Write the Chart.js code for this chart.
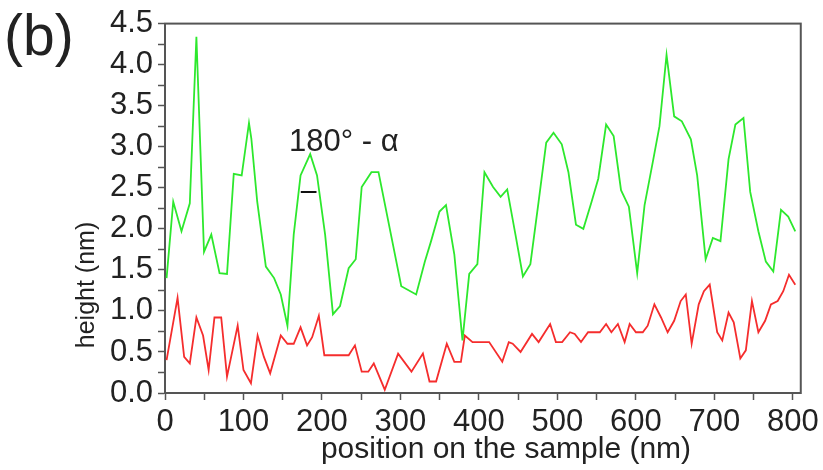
<!DOCTYPE html>
<html>
<head>
<meta charset="utf-8">
<script src="https://cdn.jsdelivr.net/npm/chart.js@4.4.1/dist/chart.umd.min.js"></script>
<style>
html, body { margin: 0; padding: 0; background: #fff; }
</style>
</head>
<body>
<canvas id="chart" width="823" height="470"></canvas>
<script>
// green profile (upper trace)
const greenX = [2, 10.5, 21, 31.6, 40, 49.7, 59, 69.5, 79, 87.6, 97.7, 107, 110, 117.5, 128.5, 139, 147.5, 156, 164, 172.7,
    185, 193.7, 204, 214, 223, 234, 243, 250.6, 263, 272, 301, 320, 331, 339, 349.7, 358, 368.6, 379, 387.6, 398,
    407, 418, 427.6, 436, 446.5, 456, 465.5, 476, 485.7, 495, 505.5, 514, 523.6, 533, 543.5, 552, 562, 571.6, 581, 591,
    601.6, 611, 621.4, 630, 639, 648.7, 658.5, 670, 678, 688.8, 698, 707.7, 718, 726.7, 737, 745.6, 756, 765.5, 775, 784.8,
    794, 803];
const greenY = [1.40, 2.33, 1.97, 2.31, 4.34, 1.72, 1.93, 1.46, 1.45, 2.67, 2.65, 3.29, 3.10, 2.33, 1.54, 1.40, 1.20, 0.82, 1.93, 2.65,
    2.91, 2.65, 1.93, 0.96, 1.06, 1.52, 1.63, 2.51, 2.69, 2.69, 1.30, 1.20, 1.60, 1.85, 2.21, 2.29, 1.69, 0.64, 1.45, 1.57,
    2.69, 2.51, 2.39, 2.48, 1.93, 1.42, 1.57, 2.33, 3.05, 3.17, 3.03, 2.69, 2.05, 2.00, 2.33, 2.61, 3.27, 3.13, 2.47, 2.27,
    1.46, 2.29, 2.81, 3.25, 4.12, 3.37, 3.31, 3.09, 2.65, 1.63, 1.89, 1.85, 2.85, 3.27, 3.35, 2.45, 1.97, 1.60, 1.48, 2.23,
    2.15, 1.97];

// red profile (lower trace)
const redX = [2, 16, 24.4, 31.6, 40, 48.5, 55.6, 63, 71.6, 79, 92.6, 100, 109.5, 118, 126, 134, 147.5, 156, 164, 172.7,
    181, 187.5, 196, 203, 234, 242, 250.6, 259, 266, 280, 297, 314, 328.6, 337, 345.4, 359, 368.6, 377, 382, 391.8,
    413, 429.7, 438, 443, 453, 467.6, 476, 490.7, 498, 506, 516, 522, 530, 539, 554, 562, 568.7, 577, 585.6, 592,
    600, 608.7, 615, 623.5, 632, 640.4, 648.7, 657, 663.5, 671, 680, 686.6, 694, 703.5, 710, 718, 724.6, 733, 740, 747.8,
    756, 764.6, 772, 780.6, 787.7, 795, 803];
const redY = [0.40, 1.16, 0.44, 0.36, 0.92, 0.70, 0.28, 0.92, 0.92, 0.20, 0.82, 0.28, 0.12, 0.70, 0.44, 0.24, 0.70, 0.60, 0.60, 0.80,
    0.58, 0.68, 0.94, 0.46, 0.46, 0.58, 0.26, 0.26, 0.36, 0.04, 0.48, 0.26, 0.48, 0.14, 0.14, 0.60, 0.38, 0.38, 0.70, 0.62,
    0.62, 0.38, 0.62, 0.60, 0.50, 0.72, 0.62, 0.84, 0.62, 0.62, 0.74, 0.72, 0.62, 0.74, 0.74, 0.84, 0.74, 0.84, 0.62, 0.84,
    0.74, 0.74, 0.82, 1.08, 0.92, 0.74, 0.88, 1.12, 1.20, 0.60, 1.08, 1.24, 1.32, 0.74, 0.64, 0.98, 0.86, 0.42, 0.52, 1.12,
    0.74, 0.88, 1.08, 1.12, 1.24, 1.44, 1.32];

// short black marker under the angle label
const markX = [173, 193];
const markY = [2.45, 2.45];

const xTicks = [0, 100, 200, 300, 400, 500, 600, 700, 800];
const yTicks = [0, 0.5, 1, 1.5, 2, 2.5, 3, 3.5, 4, 4.5];

const angleLabel = '180\u00b0 - \u03b1';
const angleAt = { x: 158, y: 2.95 };

const FONT = "'Liberation Sans', Arial, Helvetica, sans-serif";
const AXIS = '#555';

function toPoints(xs, ys) {
    return xs.map((x, i) => ({ x: x, y: ys[i] }));
}

const decorations = {
    id: 'decorations',
    beforeDatasetsDraw(chart) {
        const a = chart.chartArea;
        const ctx = chart.ctx;
        ctx.save();
        ctx.strokeStyle = AXIS;
        ctx.lineWidth = 2;
        ctx.strokeRect(a.left, a.top, a.right - a.left, a.bottom - a.top);
        ctx.restore();
    },
    afterDraw(chart) {
        const ctx = chart.ctx;
        const xs = chart.scales.x, ys = chart.scales.y;
        ctx.save();
        ctx.fillStyle = '#222';
        ctx.textBaseline = 'alphabetic';

        ctx.font = '57px ' + FONT;
        ctx.textAlign = 'left';
        ctx.fillText('(b)', 4, 55);

        ctx.font = '30px ' + FONT;
        ctx.textAlign = 'center';
        ctx.fillText('position on the sample (nm)', 506, 458);

        ctx.save();
        ctx.translate(94, 285);
        ctx.rotate(-Math.PI / 2);
        ctx.font = '25px ' + FONT;
        ctx.fillText('height (nm)', 0, 0);
        ctx.restore();

        ctx.font = '31px ' + FONT;
        ctx.textAlign = 'left';
        ctx.fillText(angleLabel, xs.getPixelForValue(angleAt.x), ys.getPixelForValue(angleAt.y));
        ctx.restore();
    }
};

new Chart(document.getElementById('chart'), {
    type: 'line',
    data: {
        datasets: [
            {
                label: 'green',
                data: toPoints(greenX, greenY),
                borderColor: 'rgb(45, 232, 45)',
                borderWidth: 1.8,
                pointRadius: 0,
                tension: 0
            },
            {
                label: 'red',
                data: toPoints(redX, redY),
                borderColor: 'rgb(245, 45, 45)',
                borderWidth: 1.8,
                pointRadius: 0,
                tension: 0
            },
            {
                label: 'mark',
                data: toPoints(markX, markY),
                borderColor: '#111',
                borderWidth: 2,
                pointRadius: 0
            }
        ]
    },
    options: {
        responsive: false,
        animation: false,
        layout: { padding: { top: 20, right: 18, left: 0, bottom: 0 } },
        plugins: {
            legend: { display: false },
            tooltip: { enabled: false }
        },
        scales: {
            x: {
                type: 'linear',
                min: 0,
                max: 810,
                afterFit: s => { s.height = 77; },
                border: { display: true, color: AXIS, width: 2 },
                grid: { drawOnChartArea: false, drawTicks: true, tickLength: 7, tickColor: AXIS, tickWidth: 1.5 },
                ticks: {
                    stepSize: 50,
                    includeBounds: false,
                    autoSkip: false,
                    maxRotation: 0,
                    padding: 4,
                    color: '#222',
                    font: { family: FONT, size: 31 },
                    callback: v => xTicks.includes(v) ? String(v) : ''
                }
            },
            y: {
                min: 0,
                max: 4.5,
                afterFit: s => { s.width = 165; },
                border: { display: true, color: AXIS, width: 2 },
                grid: { drawOnChartArea: false, drawTicks: true, tickLength: 7, tickColor: AXIS, tickWidth: 1.5 },
                ticks: {
                    stepSize: 0.25,
                    autoSkip: false,
                    padding: 5,
                    color: '#222',
                    font: { family: FONT, size: 31 },
                    callback: v => yTicks.some(t => Math.abs(t - v) < 1e-6) ? v.toFixed(1) : ''
                }
            }
        }
    },
    plugins: [decorations]
});
</script>
</body>
</html>
